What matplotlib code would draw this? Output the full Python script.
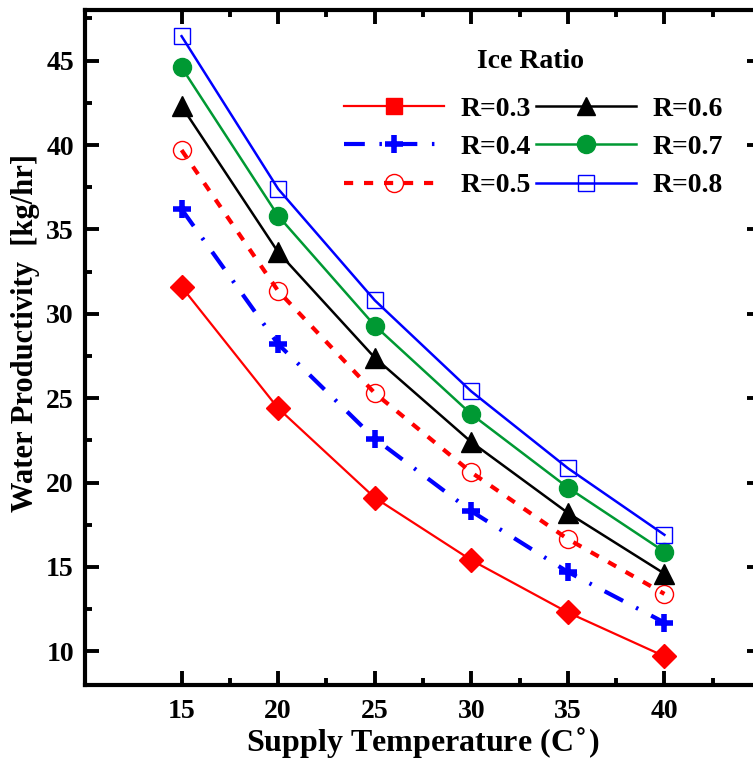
import numpy as np
import matplotlib
matplotlib.use("Agg")
import matplotlib.pyplot as plt
from matplotlib.lines import Line2D
from matplotlib.ticker import FixedLocator

plt.rcParams['font.family'] = ['Liberation Serif', 'DejaVu Serif']
plt.rcParams['font.weight'] = 'bold'

# supply temperature (C)
temp = [15, 20, 25, 30, 35, 40]

# water productivity [kg/hr] for each ice ratio
r03 = [31.6, 24.4, 19.1, 15.4, 12.3, 9.7]
r04 = [36.2, 28.2, 22.6, 18.3, 14.7, 11.7]
r05 = [39.7, 31.35, 25.3, 20.6, 16.65, 13.4]
r06 = [42.3, 33.65, 27.4, 22.4, 18.2, 14.6]
r07 = [44.6, 35.8, 29.3, 24.05, 19.7, 15.9]
r08 = [46.45, 37.4, 30.8, 25.4, 20.85, 16.9]

labels = ['R=0.3', 'R=0.4', 'R=0.5', 'R=0.6', 'R=0.7', 'R=0.8']

red = '#ff0000'
blue = '#0000ff'
green = '#009933'

fig = plt.figure(figsize=(7.53, 7.64), dpi=100)
ax = fig.add_axes([0.1129, 0.1034, 0.8977, 0.8835])

ax.plot(temp, r03, color=red, lw=1.6, marker='D', ms=12, mfc=red, mec=red)
ax.plot(temp, r04, color=blue, lw=3, dashes=(5, 3.5, 0.6, 3.5),
        marker='+', ms=13, mew=4, mec=blue)
ax.plot(temp, r05, color=red, lw=3, dashes=(2.2, 2.6),
        marker='o', ms=13, mfc='none', mec=red, mew=1)
ax.plot(temp, r06, color='black', lw=1.8, marker='^', ms=15, mfc='black', mec='black')
ax.plot(temp, r07, color=green, lw=1.8, marker='o', ms=13, mfc=green, mec=green)
ax.plot(temp, r08, color=blue, lw=1.8, marker='s', ms=12, mfc='none', mec=blue, mew=1)

ax.set_xlim(10, 45)
ax.set_ylim(8, 48)
ax.set_xticks([15, 20, 25, 30, 35, 40])
ax.xaxis.set_minor_locator(FixedLocator([17.5, 22.5, 27.5, 32.5, 37.5, 42.5]))
ax.set_yticks([10, 15, 20, 25, 30, 35, 40, 45])
ax.yaxis.set_minor_locator(FixedLocator([12.5, 17.5, 22.5, 27.5, 32.5, 37.5, 42.5, 47.5]))

for side in ax.spines.values():
    side.set_linewidth(3)
ax.tick_params(which='both', direction='in', top=True, right=True, width=2.8)
ax.tick_params(which='major', length=10)
ax.tick_params(which='minor', length=5)
ax.tick_params(axis='y', which='major', labelsize=20, pad=8)
ax.tick_params(axis='x', which='major', labelsize=20, pad=10)
for t in ax.get_xticklabels() + ax.get_yticklabels():
    t.set_fontweight('bold')

ax.set_xlabel('Supply Temperature (C$^{\\circ}$)', fontsize=23, fontweight='bold', labelpad=2)
ax.set_ylabel('Water Productivity  [kg/hr]', fontsize=22, fontweight='bold')
ax.yaxis.set_label_coords(-0.067, 0.521)

handles = [
    Line2D([], [], color=red, lw=1.6, marker='s', ms=12, mfc=red, mec=red),
    Line2D([], [], color=blue, lw=3, dashes=(5, 3.5, 0.6, 3.5), marker='+', ms=13, mew=4, mec=blue),
    Line2D([], [], color=red, lw=3, dashes=(2.2, 2.6), marker='o', ms=13, mfc='none', mec=red, mew=1),
    Line2D([], [], color='black', lw=1.8, marker='^', ms=13, mfc='black', mec='black'),
    Line2D([], [], color=green, lw=1.8, marker='o', ms=13, mfc=green, mec=green),
    Line2D([], [], color=blue, lw=1.8, marker='s', ms=12, mfc='none', mec=blue, mew=1),
]
leg = ax.legend(handles, labels, ncol=2, frameon=False,
                loc='upper left', bbox_to_anchor=(0.438, 0.892),
                bbox_transform=fig.transFigure, borderpad=0,
                prop={'size': 20, 'weight': 'bold'},
                handlelength=3.6, handletextpad=0.6, columnspacing=0.2,
                labelspacing=0.46, numpoints=1)
fig.text(0.705, 0.919, 'Ice Ratio', fontsize=20, fontweight='bold',
         ha='center', va='center')

fig.savefig('out.png', dpi=100)
